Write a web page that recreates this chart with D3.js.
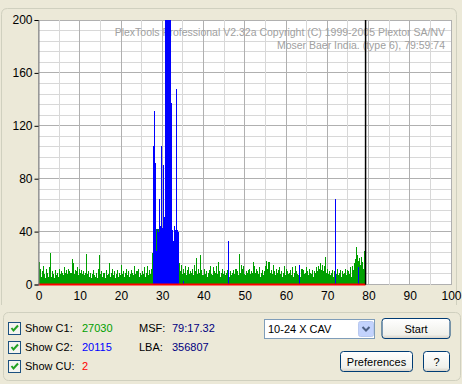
<!DOCTYPE html>
<html lang="en">
<head>
<meta charset="UTF-8">
<title>PlexTools C1/C2 scan</title>
<script src="https://d3js.org/d3.v7.min.js"></script>
<style>
  html, body { margin: 0; padding: 0; background: #ECE9D8; }
  svg { display: block; font-family: "Liberation Sans", Arial, sans-serif; }
  .ui { font-size: 11px; fill: #000; }
</style>
</head>
<body>
<script>
// minutes on x, errors per second on y
var xTicks = [0, 10, 20, 30, 40, 50, 60, 70, 80, 90, 100];
var yTicks = [0, 40, 80, 120, 160, 200];

var step = 0.25;          // C1 sample every quarter minute
var discEnd = 79.29;      // 79:17.32

// C1 (green), 4 samples per minute, minutes 0..79
var c1 = [
  17,12,6,10,   14,8,5,12,    9,6,13,24,    6,10,8,5,     11,7,9,6,
  12,8,10,9,    7,13,9,11,    8,12,10,9,    19,16,8,11,   10,13,7,12,
  9,11,8,10,    7,9,23,8,     10,6,9,5,     8,11,7,6,     9,5,12,22,
  8,10,6,9,     5,11,7,8,     16,6,9,12,    7,10,5,8,     11,6,9,7,
  15,8,10,6,    9,12,7,10,    6,8,11,9,     7,14,8,10,    12,6,9,7,
  10,8,13,6,    9,14,7,11,    8,12,24,25,   22,30,42,42,  42,38,30,32,
  35,30,28,33,  30,32,35,30,  28,31,30,27,  29,25,22,20,  16,10,15,8,
  12,9,14,7,    11,13,8,10,   9,12,7,15,    10,20,8,12,   9,22,11,7,
  12,8,10,6,    9,11,14,8,    7,13,10,9,    14,8,17,10,   6,9,12,8,
  10,7,9,11,    8,6,10,7,     9,11,8,12,    10,7,23,9,    15,12,14,8,
  7,10,9,11,    12,8,10,9,    17,14,9,12,   10,8,13,6,    9,11,7,10,
  14,18,12,17,  9,11,8,15,    10,7,12,9,    11,13,8,10,   6,9,14,7,
  12,10,8,9,    11,7,13,6,    9,14,10,8,    7,10,6,12,    11,8,9,13,
  10,7,12,9,    8,11,6,10,    9,13,10,14,   12,16,11,15,  10,14,21,9,
  12,8,10,7,    9,11,6,10,    8,12,7,9,     11,6,10,8,    9,12,7,11,
  10,8,13,6,    14,11,16,19,  28,22,18,20,  15,21,17,12,  25,18
];

// C2 (blue), sparse [minute, value]
var c2 = [
  [27.75,105],[28,131],[28.25,92],[28.5,25],[28.75,42],[29,40],[29.25,65],[29.5,44],
  [29.75,105],[30,43],[30.25,90],[30.5,51],[30.75,200],[31,200],[31.25,200],[31.5,200],
  [31.75,200],[32,137],[32.25,41],[32.5,33],[32.75,44],[33,41],[33.25,148],[33.5,41],
  [33.75,40],[35.1,3],[45.85,33],[63.1,15],[71.8,65],[77.4,13]
];

// CU (red), sparse [minute, value]
var cu = [[0, 0], [discEnd, 0]];

var watermark = [
  "PlexTools Professional V2.32a Copyright (C) 1999-2005 Plextor SA/NV",
  "Moser Baer India. (type 6), 79:59:74"
];

var totals = [
  { label: "Show C1:", value: "27030", color: "#00A000" },
  { label: "Show C2:", value: "20115", color: "#0000FF" },
  { label: "Show CU:", value: "2", color: "#FF0000" }
];
var position = [
  { label: "MSF:", value: "79:17.32" },
  { label: "LBA:", value: "356807" }
];

var W = 462, H = 384;
var svg = d3.select("body").append("svg").attr("width", W).attr("height", H);

var x = d3.scaleLinear().domain([0, 100]).range([38.5, 451]);
var y = d3.scaleLinear().domain([0, 200]).range([284.5, 20]).clamp(true);

// group boxes
svg.append("path")
  .attr("d", "M1.5,305 V14.5 Q1.5,8.5 7.5,8.5 H450.5 Q456.5,8.5 456.5,14.5 V305")
  .attr("fill", "none").attr("stroke", "#D0D0BF");
svg.append("rect")
  .attr("x", 3.5).attr("y", 312.5).attr("width", 457).attr("height", 68)
  .attr("rx", 5).attr("fill", "none").attr("stroke", "#D0D0BF");

// plot background
svg.append("rect")
  .attr("x", x(0)).attr("y", y(200)).attr("width", x(100) - x(0)).attr("height", y(0) - y(200))
  .attr("fill", "#fff");

var grid = svg.append("g").attr("shape-rendering", "crispEdges");
grid.selectAll(".gy").data(d3.range(0, 201, 8)).enter().append("line")
  .attr("x1", x(0)).attr("x2", x(100))
  .attr("y1", function(d) { return y(d); }).attr("y2", function(d) { return y(d); })
  .attr("stroke", function(d) { return d % 40 === 0 ? "#B0B0B0" : "#D8D8D8"; });
grid.selectAll(".gx").data(d3.range(0, 101, 5)).enter().append("line")
  .attr("y1", y(0)).attr("y2", y(200))
  .attr("x1", function(d) { return x(d); }).attr("x2", function(d) { return x(d); })
  .attr("stroke", function(d) { return d % 10 === 0 ? "#B0B0B0" : "#D8D8D8"; });

// watermark
svg.selectAll(".wm").data(watermark).enter().append("text")
  .attr("x", 445).attr("y", function(d, i) { return 36 + i * 13; })
  .attr("text-anchor", "end").attr("font-size", 10.5).attr("fill", "#A0A0A0")
  .text(function(d) { return d; });

var bw = x(step) - x(0);
var bars = svg.append("g").attr("shape-rendering", "crispEdges");
bars.selectAll(".c1").data(c1).enter().append("rect")
  .attr("x", function(d, i) { return x(i * step); })
  .attr("width", bw)
  .attr("y", function(d) { return y(d); })
  .attr("height", function(d) { return y(0) - y(d); })
  .attr("fill", "#00A000");
bars.selectAll(".c2").data(c2).enter().append("rect")
  .attr("x", function(d) { return x(d[0]); })
  .attr("width", bw)
  .attr("y", function(d) { return y(d[1]); })
  .attr("height", function(d) { return y(0) - y(d[1]); })
  .attr("fill", "#0000FF");

svg.append("path").datum(cu)
  .attr("d", d3.line().x(function(d) { return x(d[0]); }).y(function(d) { return y(d[1]); }))
  .attr("stroke", "#FF0000").attr("stroke-width", 2).attr("fill", "none");

svg.append("line")
  .attr("x1", x(discEnd)).attr("x2", x(discEnd)).attr("y1", y(200)).attr("y2", y(0))
  .attr("stroke", "#000").attr("stroke-width", 1.5);

// axes
var yAxis = svg.append("g").attr("transform", "translate(" + x(0) + ",0)")
  .call(d3.axisLeft(y).tickValues(yTicks).tickSize(4).tickPadding(2));
yAxis.select(".domain").attr("stroke", "#808080");
yAxis.selectAll(".tick line").attr("stroke", "#000");
yAxis.selectAll("text").attr("font-size", 12).attr("font-family", "Liberation Sans, Arial, sans-serif").attr("fill", "#000");

var xAxis = svg.append("g").attr("transform", "translate(0," + y(0) + ")")
  .call(d3.axisBottom(x).tickValues(xTicks).tickSize(0).tickPadding(7));
xAxis.select(".domain").remove();
xAxis.selectAll("text").attr("font-size", 12).attr("font-family", "Liberation Sans, Arial, sans-serif").attr("fill", "#000");

// controls
var ctl = svg.append("g");
totals.forEach(function(t, i) {
  var cy = 322 + i * 19;
  var g = ctl.append("g").attr("transform", "translate(8.5," + (cy + 0.5) + ")");
  g.append("rect").attr("width", 12).attr("height", 12).attr("fill", "#F4F4F0").attr("stroke", "#1C5180");
  g.append("path").attr("d", "M3,5.5 L5,8 L9.5,3").attr("fill", "none")
    .attr("stroke", "#21A121").attr("stroke-width", 2);
  ctl.append("text").attr("class", "ui").attr("x", 25).attr("y", cy + 10).text(t.label);
  ctl.append("text").attr("class", "ui").attr("x", 82).attr("y", cy + 10)
    .attr("fill", t.color).style("fill", t.color).text(t.value);
});
position.forEach(function(p, i) {
  var cy = 322 + i * 19;
  ctl.append("text").attr("class", "ui").attr("x", 139).attr("y", cy + 10).text(p.label);
  ctl.append("text").attr("class", "ui").attr("x", 172).attr("y", cy + 10)
    .style("fill", "#000080").text(p.value);
});

// combo box
ctl.append("rect").attr("x", 264.5).attr("y", 319.5).attr("width", 110).attr("height", 19)
  .attr("fill", "#fff").attr("stroke", "#7F9DB9");
ctl.append("text").attr("class", "ui").attr("x", 268).attr("y", 333).text("10-24 X CAV");
ctl.append("rect").attr("x", 358.5).attr("y", 321.5).attr("width", 15).attr("height", 15)
  .attr("rx", 2).attr("fill", "#C3D3FD").attr("stroke", "#B9C9EF");
ctl.append("path").attr("d", "M362.5,327 L366,330.5 L369.5,327").attr("fill", "none")
  .attr("stroke", "#4D6185").attr("stroke-width", 2);

var grad = svg.append("defs").append("linearGradient").attr("id", "btn")
  .attr("x1", 0).attr("y1", 0).attr("x2", 0).attr("y2", 1);
grad.append("stop").attr("offset", "0").attr("stop-color", "#FFFFFF");
grad.append("stop").attr("offset", "0.8").attr("stop-color", "#F0F0EA");
grad.append("stop").attr("offset", "1").attr("stop-color", "#D6D0C5");

var buttons = [
  { label: "Start", x: 382, y: 318.5, w: 68, h: 20 },
  { label: "Preferences", x: 340.5, y: 351.5, w: 72, h: 20 },
  { label: "?", x: 423.5, y: 351.5, w: 26, h: 20 }
];
buttons.forEach(function(b) {
  ctl.append("rect").attr("x", b.x).attr("y", b.y).attr("width", b.w).attr("height", b.h)
    .attr("rx", 3).attr("fill", "url(#btn)").attr("stroke", "#003C74");
  ctl.append("text").attr("class", "ui").attr("x", b.x + b.w / 2).attr("y", b.y + 14)
    .attr("text-anchor", "middle").text(b.label);
});
</script>
</body>
</html>
